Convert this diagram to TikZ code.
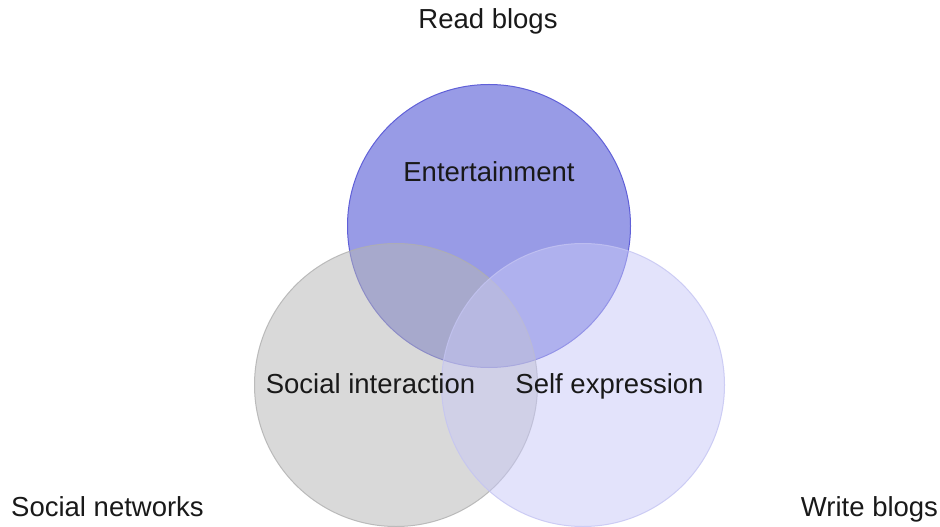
\documentclass[tikz,border=0pt]{standalone}
\usepackage{fontspec}
\setmainfont{Liberation Sans}
\begin{document}
\definecolor{readfill}{RGB}{152,155,230}
\definecolor{readline}{RGB}{96,96,216}
\definecolor{socfill}{RGB}{182,182,182}
\definecolor{socline}{RGB}{175,175,175}
\definecolor{writefill}{RGB}{199,199,247}
\definecolor{writeline}{RGB}{196,196,242}
\begin{tikzpicture}[x=1bp,y=-1bp,
  setcircle/.style={circle,inner sep=0pt,minimum size=283bp,line width=1bp},
  lbl/.style={anchor=base,inner sep=0pt,font=\fontsize{27.5bp}{31bp}\selectfont,text=black!90}]
  \useasboundingbox (0,0) rectangle (940,527);
  \begin{scope}
    \clip (0,0) rectangle (940,527);
    % the three sets, drawn back to front
    \node[setcircle,draw=readline,fill=readfill] (read) at (489,226) {};
    \node[setcircle,draw=socline,fill=socfill,fill opacity=0.52,draw opacity=0.8] (social) at (396,385) {};
    \node[setcircle,draw=writeline,fill=writefill,fill opacity=0.5,draw opacity=0.8] (write) at (583,385) {};
  \end{scope}
  % labels inside the sets
  \node[lbl] (ent) at (489,182) {Entertainment};
  \node[lbl] (inter) at (370.5,393) {Social interaction};
  \node[lbl] (expr) at (609.5,393) {Self expression};
  % set names
  \node[lbl] (readname) at (488,29) {Read blogs};
  \node[lbl] (socname) at (107.5,516) {Social networks};
  \node[lbl] (writename) at (869.5,516) {Write blogs};
\end{tikzpicture}
\end{document}
